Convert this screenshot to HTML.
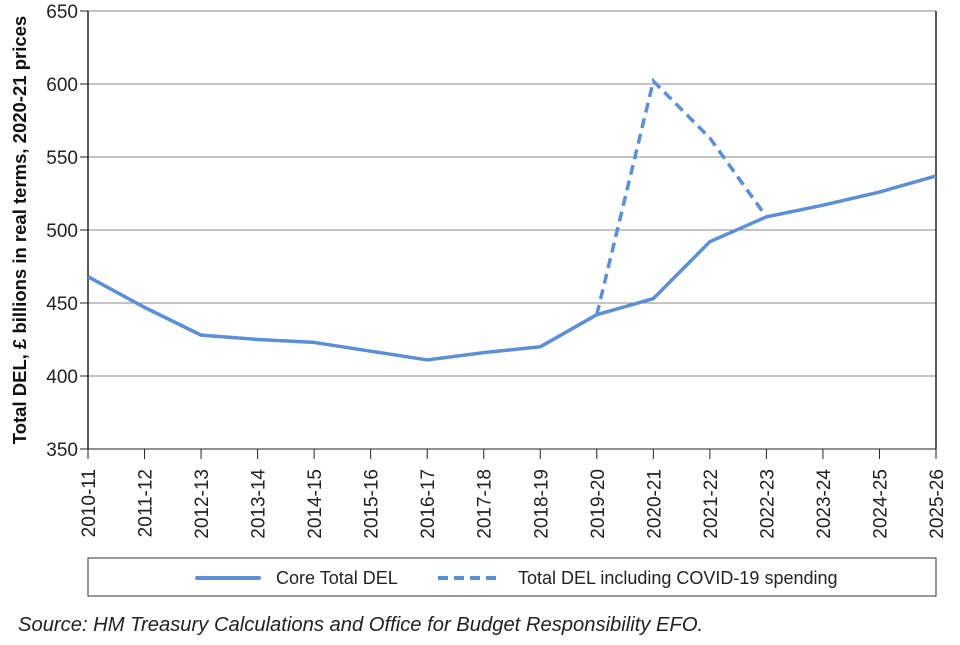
<!DOCTYPE html>
<html><head><meta charset="utf-8"><style>
body{margin:0;background:#fff;font-family:"Liberation Sans",sans-serif;}
</style></head><body>
<svg id="chart" width="960" height="640" xmlns="http://www.w3.org/2000/svg" font-family="Liberation Sans, sans-serif">
<g id="grid"></g><g id="axes"></g><g id="series"></g>
<rect x="88" y="558" width="848" height="38" fill="#fff" stroke="#333" stroke-width="1"/>
<g>
<line x1="197" y1="578" x2="259" y2="578" stroke="#5b8fd6" stroke-width="4" stroke-linecap="round"/>
<text x="276" y="584" font-size="18" fill="#222">Core Total DEL</text></g>
<g>
<line x1="438" y1="578" x2="500" y2="578" stroke="#5b8fd6" stroke-width="4" stroke-dasharray="10,6"/>
<text x="518" y="584" font-size="18" fill="#222">Total DEL including COVID-19 spending</text></g>
<text x="18" y="631" font-size="20.2" font-style="italic" fill="#222">Source: HM Treasury Calculations and Office for Budget Responsibility EFO.</text>
<text transform="translate(26,230) rotate(-90)" text-anchor="middle" font-size="18.5" font-weight="bold" fill="#111">Total DEL, £ billions in real terms, 2020-21 prices</text>
</svg>
<script>
const categories=["2010-11","2011-12","2012-13","2013-14","2014-15","2015-16","2016-17","2017-18","2018-19","2019-20","2020-21","2021-22","2022-23","2023-24","2024-25","2025-26"];
const coreValues=[468,447,428,425,423,417,411,416,420,442,453,492,509,517,526,537];
const covidCategories=["2019-20","2020-21","2021-22","2022-23"];
const covidValues=[442,602,563,509];
const yTicks=[350,400,450,500,550,600,650];
const NS="http://www.w3.org/2000/svg";
const x0=88,x1=936,yTop=11,yBot=449,yMin=350,yMax=650;
function xs(c){return x0+categories.indexOf(c)*(x1-x0)/(categories.length-1);}
function ys(v){return yBot-(v-yMin)/(yMax-yMin)*(yBot-yTop);}
function mk(t,a,p){const e=document.createElementNS(NS,t);for(const k in a)e.setAttribute(k,a[k]);p.appendChild(e);return e;}
const grid=document.getElementById('grid'),axes=document.getElementById('axes'),series=document.getElementById('series');
yTicks.forEach(v=>{
 const l=mk('line',{x1:x0,x2:x1,y1:ys(v),y2:ys(v),stroke:v===yMin?'#222':'#888','stroke-width':1},grid);
 
 
 const tk=mk('line',{x1:x0-8,x2:x0,y1:ys(v),y2:ys(v),stroke:'#222'},axes);
 
 
 const t=mk('text',{x:x0-10,y:ys(v)+7,'text-anchor':'end','font-size':19,fill:'#222'},axes);
 t.textContent=v;
 
 
});
const ya=mk('line',{x1:x0,x2:x0,y1:yTop,y2:yBot,stroke:'#222','stroke-width':1.5},axes);


const rb=mk('line',{x1:x1,x2:x1,y1:yTop,y2:yBot,stroke:'#222','stroke-width':1.5},axes);


categories.forEach(c=>{
 const x=xs(c);
 const tk=mk('line',{x1:x,x2:x,y1:yBot,y2:yBot+10,stroke:'#222'},axes);
 
 
 const t=mk('text',{transform:`translate(${x+7},${yBot+20}) rotate(-90)`,'text-anchor':'end','font-size':19,fill:'#222'},axes);
 t.textContent=c;
 
 
});
const core=mk('polyline',{points:categories.map((c,i)=>xs(c)+','+ys(coreValues[i])).join(' '),fill:'none',stroke:'#5b8fd6','stroke-width':3.5,'stroke-linejoin':'round'},series);


const cov=mk('polyline',{points:covidCategories.map((c,i)=>xs(c)+','+ys(covidValues[i])).join(' '),fill:'none',stroke:'#5b8fd6','stroke-width':3.5,'stroke-dasharray':'10,6'},series);


</script>
</body></html>
